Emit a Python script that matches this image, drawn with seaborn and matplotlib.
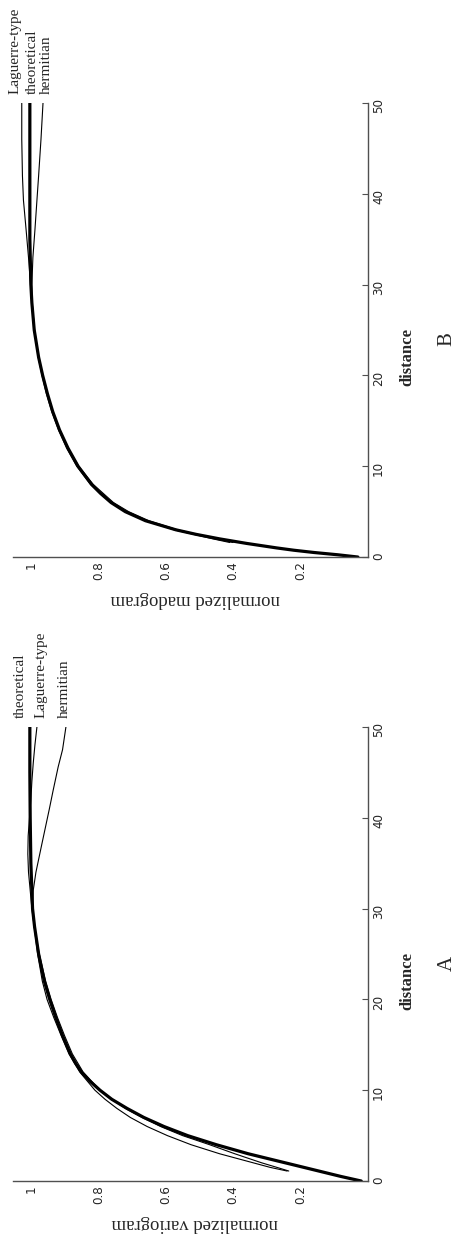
import pandas as pd
import seaborn as sns
import matplotlib.pyplot as plt

sns.set_style('white')
plt.rcParams['font.family'] = ['Liberation Serif', 'DejaVu Serif']

# Panel A: normalized variogram
dist_th_a = [0, 0.5, 1, 1.5, 2, 3, 4, 5, 6, 7, 8, 9, 10, 11, 12, 13, 14, 16, 18, 20, 22, 25, 28, 30,
             35, 40, 45, 50]
vario_th = [0.02, 0.08, 0.135, 0.19, 0.245, 0.355, 0.45, 0.535, 0.605, 0.665, 0.715, 0.76, 0.795, 0.825,
            0.85, 0.868, 0.883, 0.906, 0.926, 0.944, 0.96, 0.977, 0.989, 0.995, 1.0, 1.002, 1.003, 1.003]
dist_lag_a = [1.1, 1.5, 2, 3, 4, 5, 6, 7, 8, 9, 10, 12, 14, 16, 18, 20, 22, 25, 28, 30, 32, 34, 36, 38,
              40, 42, 44, 46, 48, 50]
vario_lag = [0.235, 0.27, 0.315, 0.395, 0.47, 0.55, 0.615, 0.67, 0.72, 0.76, 0.795, 0.845, 0.877, 0.9,
             0.921, 0.94, 0.956, 0.975, 0.99, 0.997, 1.002, 1.007, 1.009, 1.008, 1.004, 1.0, 0.997,
             0.993, 0.988, 0.982]
dist_her_a = [1.1, 1.5, 2, 3, 4, 5, 6, 7, 8, 9, 10, 12, 14, 16, 18, 20, 22, 25, 28, 30, 32, 34, 37, 41,
              43, 45.6, 47.5, 50]
vario_her = [0.24, 0.29, 0.34, 0.44, 0.525, 0.595, 0.655, 0.705, 0.745, 0.78, 0.81, 0.855, 0.887, 0.91,
             0.932, 0.952, 0.966, 0.98, 0.99, 0.995, 0.993, 0.985, 0.968, 0.945, 0.934, 0.919, 0.906, 0.896]

# Panel B: normalized madogram
dist_th_b = [0, 0.25, 0.5, 0.75, 1, 1.5, 2, 2.5, 3, 4, 5, 6, 7, 8, 10, 12, 14, 16, 18, 20, 22, 25, 28,
             30, 35, 40, 45, 50]
mado_th = [0.03, 0.09, 0.16, 0.22, 0.27, 0.36, 0.44, 0.51, 0.57, 0.66, 0.72, 0.762, 0.793, 0.82, 0.86,
           0.89, 0.915, 0.935, 0.951, 0.965, 0.977, 0.99, 0.997, 1.0, 1.003, 1.003, 1.003, 1.003]
dist_thin_b = [1.6, 2, 3, 4, 5, 6, 8, 10, 12, 14, 16, 18, 20, 22, 25, 28, 30, 33, 36, 39.3, 42, 46, 50]
mado_lag = [0.41, 0.46, 0.575, 0.66, 0.718, 0.762, 0.823, 0.864, 0.894, 0.918, 0.938, 0.954, 0.967,
            0.978, 0.99, 0.997, 1.001, 1.007, 1.014, 1.022, 1.025, 1.027, 1.027]
mado_her = [0.40, 0.45, 0.565, 0.65, 0.71, 0.755, 0.815, 0.858, 0.89, 0.915, 0.935, 0.951, 0.965, 0.977,
            0.989, 0.996, 0.997, 0.994, 0.988, 0.982, 0.977, 0.97, 0.964]

# end-of-line labels: (text, value position)
labels_a = [('theoretical', 1.03), ('Laguerre-type', 0.97), ('hermitian', 0.90)]
labels_b = [('Laguerre-type', 1.047), ('theoretical', 0.997), ('hermitian', 0.955)]

dist_ticks = [0, 10, 20, 30, 40, 50]
value_ticks = [0.2, 0.4, 0.6, 0.8, 1]
value_ticklabels = ['0.2', '0.4', '0.6', '0.8', '1']

widths = {'theoretical': 2.3, 'Laguerre-type': 0.8, 'hermitian': 0.8}


def make_df(parts):
    frames = []
    for name, d, v in parts:
        frames.append(pd.DataFrame({'distance': d, 'value': v, 'model': name}))
    return pd.concat(frames, ignore_index=True)


df_a = make_df([('theoretical', dist_th_a, vario_th),
                ('Laguerre-type', dist_lag_a, vario_lag),
                ('hermitian', dist_her_a, vario_her)])
df_b = make_df([('theoretical', dist_th_b, mado_th),
                ('Laguerre-type', dist_thin_b, mado_lag),
                ('hermitian', dist_thin_b, mado_her)])


def draw_panel(ax, df, labels, ylabel, letter):
    # the whole chart is turned a quarter turn: distance runs upward, value runs leftward
    sns.lineplot(data=df, x='value', y='distance', hue='model', size='model',
                 palette={k: 'black' for k in widths}, sizes=widths,
                 orient='y', estimator=None, legend=False, ax=ax)
    ax.set_xlim(1.053, 0)
    ax.set_ylim(0, 50)
    for s in ['top', 'left']:
        ax.spines[s].set_visible(False)
    for s in ['right', 'bottom']:
        ax.spines[s].set_color('#505050')
        ax.spines[s].set_linewidth(1.0)
    ax.yaxis.tick_right()
    ax.set_yticks(dist_ticks)
    ax.set_xticks(value_ticks)
    ax.set_xticklabels(value_ticklabels)
    ax.tick_params(axis='both', direction='in', length=4, width=0.8, color='#505050',
                   labelsize=9.5, labelrotation=90, pad=3)
    for t in ax.get_xticklabels() + ax.get_yticklabels():
        t.set_family('DejaVu Sans')
        t.set_fontstretch('condensed')
    ax.set_xlabel('')
    ax.set_ylabel('')
    ax.text(0.513, -0.093, ylabel, transform=ax.transAxes, rotation=180,
            ha='center', va='center', fontsize=13.5)
    ax.text(1.11, 0.44, 'distance', transform=ax.transAxes, rotation=90,
            ha='center', va='center', fontsize=12, fontweight='bold')
    ax.text(1.2225, 0.48, letter, transform=ax.transAxes, rotation=90,
            ha='center', va='center', fontsize=15)
    for txt, pos in labels:
        ax.text(pos, 51, txt, rotation=90, ha='center', va='bottom', fontsize=11)


fig = plt.figure(figsize=(4.56, 12.42), dpi=100)
ax_b = fig.add_axes([0.0285, 0.5515, 0.7785, 0.3655])
ax_a = fig.add_axes([0.0285, 0.0491, 0.7785, 0.3656])

draw_panel(ax_a, df_a, labels_a, 'normalized variogram', 'A')
draw_panel(ax_b, df_b, labels_b, 'normalized madogram', 'B')

fig.savefig('out.png', dpi=100)
